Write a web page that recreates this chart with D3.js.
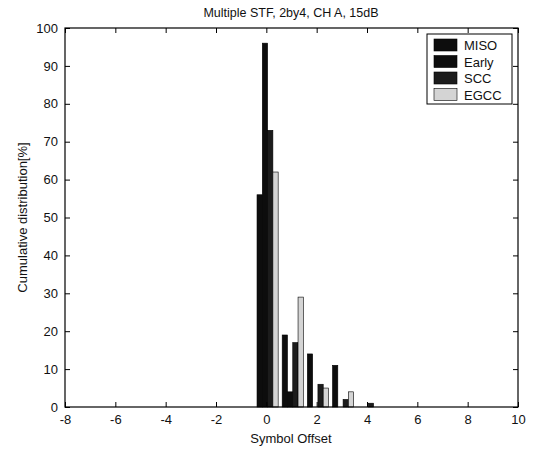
<!DOCTYPE html>
<html>
<head>
<meta charset="utf-8">
<script src="https://d3js.org/d3.v7.min.js"></script>
<style>
body { margin: 0; background: #fff; }
text { font-family: "Liberation Sans", Arial, sans-serif; fill: #111; }
</style>
</head>
<body>
<div id="chart"></div>
<script>
// values
var offsets = [0, 1, 2, 3, 4];
var seriesNames = ["MISO", "Early", "SCC", "EGCC"];
var miso  = [56, 19, 14, 11, 0];
var early = [96, 4, 0, 0, 0];
var scc   = [73, 17, 6, 2, 1];
var egcc  = [62, 29, 5, 4, 0];
var xTicks = [-8, -6, -4, -2, 0, 2, 4, 6, 8, 10];
var yTicks = [0, 10, 20, 30, 40, 50, 60, 70, 80, 90, 100];
var fills = ["#0d0d0d", "#0d0d0d", "#1c1c1c", "#d4d4d4"];

var W = 545, H = 451;
var pLeft = 65, pRight = 518, pTop = 28, pBottom = 407;

var svg = d3.select("#chart").append("svg")
  .attr("width", W).attr("height", H);

var x = d3.scaleLinear().domain([-8, 10]).range([pLeft, pRight]);
var y = d3.scaleLinear().domain([0, 100]).range([pBottom, pTop]);

// bars
var all = [miso, early, scc, egcc];
var bw = 0.21;
all.forEach(function(vals, s) {
  svg.append("g").selectAll("rect")
    .data(offsets.map(function(o, i) { return {o: o, v: vals[i]}; }).filter(function(d) { return d.v > 0; }))
    .enter().append("rect")
      .attr("x", function(d) { return x(d.o + (s - 2) * bw + 0.05); })
      .attr("width", x(bw) - x(0))
      .attr("y", function(d) { return y(d.v); })
      .attr("height", function(d) { return y(0) - y(d.v); })
      .attr("fill", fills[s])
      .attr("stroke", "#000")
      .attr("stroke-width", 0.6);
});

// box
svg.append("rect")
  .attr("x", pLeft).attr("y", pTop)
  .attr("width", pRight - pLeft).attr("height", pBottom - pTop)
  .attr("fill", "none").attr("stroke", "#000").attr("stroke-width", 1.2);

// axes with inward ticks (matlab style)
var fmt = function(d) { return String(d); };
var xAxis = d3.axisBottom(x).tickValues(xTicks).tickSize(-5).tickPadding(8).tickFormat(fmt);
var gx = svg.append("g").attr("transform", "translate(0," + pBottom + ")").call(xAxis);
var xTop = d3.axisTop(x).tickValues(xTicks).tickSize(-5).tickFormat("");
var gxt = svg.append("g").attr("transform", "translate(0," + pTop + ")").call(xTop);
var yAxis = d3.axisLeft(y).tickValues(yTicks).tickSize(-5).tickPadding(7).tickFormat(fmt);
var gy = svg.append("g").attr("transform", "translate(" + pLeft + ",0)").call(yAxis);
var yRight = d3.axisRight(y).tickValues(yTicks).tickSize(-5).tickFormat("");
var gyr = svg.append("g").attr("transform", "translate(" + pRight + ",0)").call(yRight);

[gx, gxt, gy, gyr].forEach(function(g) {
  g.select(".domain").remove();
  g.selectAll("line").attr("stroke", "#000");
  g.selectAll("text").style("font-size", "13px").attr("fill", "#111");
});

// title and labels
svg.append("text").attr("x", 291).attr("y", 17).attr("text-anchor", "middle")
  .style("font-size", "12.5px").text("Multiple STF, 2by4, CH A, 15dB");
svg.append("text").attr("x", 291).attr("y", 443).attr("text-anchor", "middle")
  .style("font-size", "13px").text("Symbol Offset");
svg.append("text").attr("transform", "translate(27," + ((pTop + pBottom) / 2) + ") rotate(-90)")
  .attr("text-anchor", "middle").style("font-size", "13px").text("Cumulative distribution[%]");

// legend
var lg = svg.append("g").attr("transform", "translate(427,34)");
lg.append("rect").attr("width", 85).attr("height", 70)
  .attr("fill", "#fff").attr("stroke", "#000").attr("stroke-width", 1);
seriesNames.forEach(function(n, i) {
  lg.append("rect").attr("x", 7).attr("y", 5 + i * 16.5).attr("width", 23).attr("height", 12)
    .attr("fill", fills[i]).attr("stroke", "#000").attr("stroke-width", 0.6);
  lg.append("text").attr("x", 37).attr("y", 16 + i * 16.5)
    .style("font-size", "13px").text(n);
});
</script>
</body>
</html>
